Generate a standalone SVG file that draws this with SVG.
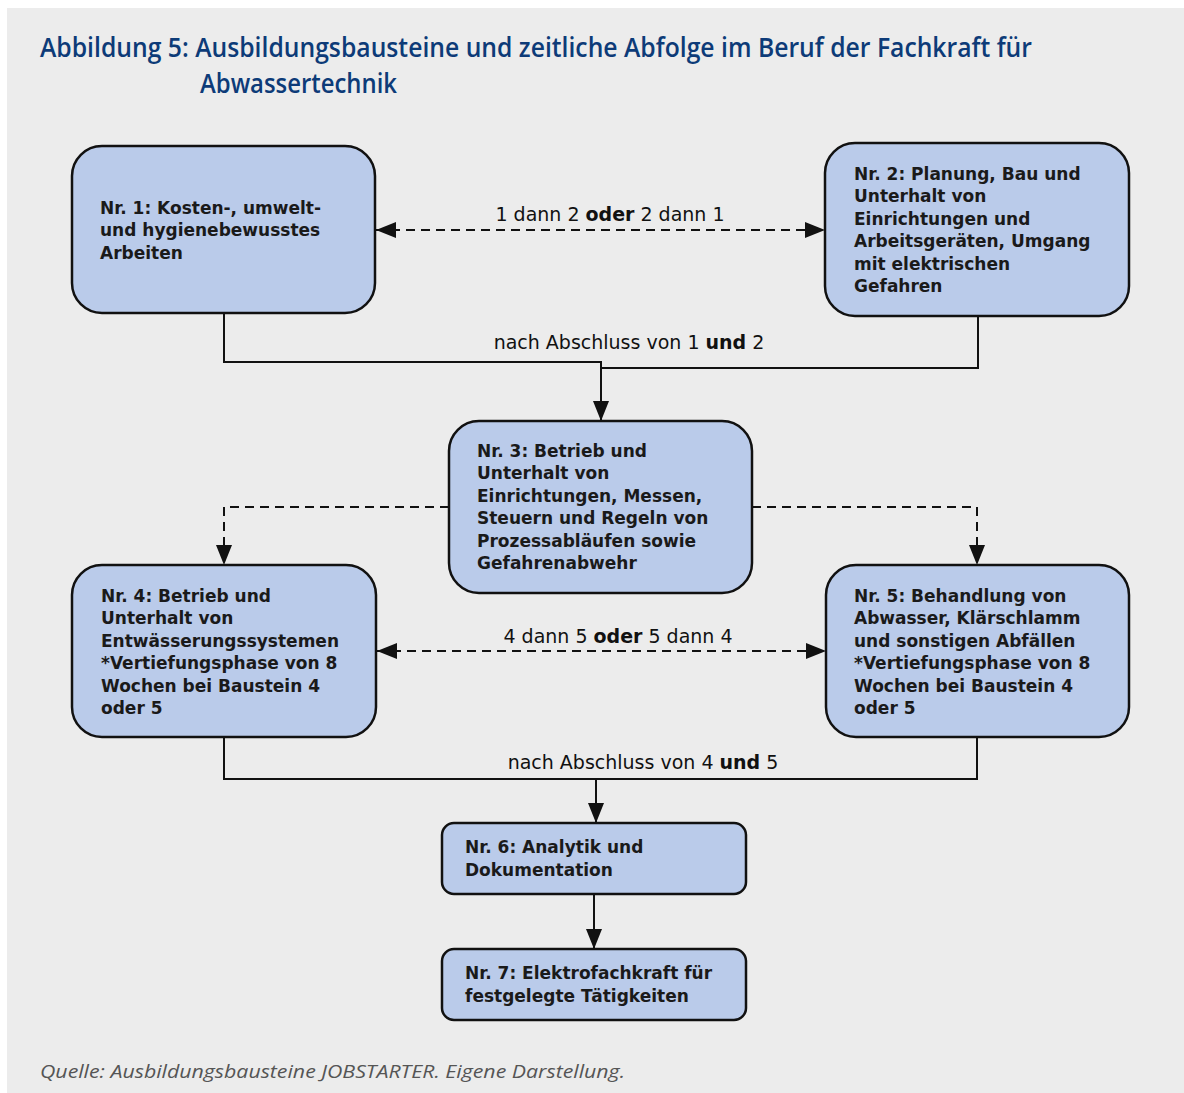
<svg xmlns="http://www.w3.org/2000/svg" width="1184" height="1093" viewBox="0 0 1184 1093">
<style>
.bg{fill:#ececec}
.node rect{fill:#bacbea;stroke:#111;stroke-width:2.5}
.nt{font-family:"DejaVu Sans",Verdana,sans-serif;font-weight:bold;font-size:17px;fill:#1a1a1a}
.lbl{font-family:"DejaVu Sans",Verdana,sans-serif;font-size:19px;fill:#111}
.lbl .b{font-weight:bold}
.title{font-family:"Open Sans","Noto Sans",sans-serif;font-weight:600;font-size:27px;fill:#0d3b78}
.cap{font-family:"Open Sans","Noto Sans",sans-serif;font-style:italic;font-size:18px;fill:#555}
.solid{fill:none;stroke:#111;stroke-width:2}
.dash{fill:none;stroke:#111;stroke-width:2;stroke-dasharray:9 6}
</style>
<defs>
<marker id="ah" viewBox="0 0 20 16" refX="20" refY="8" markerWidth="20" markerHeight="16" markerUnits="userSpaceOnUse" orient="auto-start-reverse">
<path d="M0,0 L20,8 L0,16 Z" fill="#111"/>
</marker>
</defs>
<rect class="bg" x="7" y="8" width="1177" height="1085"/>
<text class="title" x="40" y="57" textLength="992" lengthAdjust="spacingAndGlyphs">Abbildung 5: Ausbildungsbausteine und zeitliche Abfolge im Beruf der Fachkraft für</text>
<text class="title" x="200" y="93" textLength="197" lengthAdjust="spacingAndGlyphs">Abwassertechnik</text>

<g id="connectors">
<path class="dash" d="M376,230 H825" marker-start="url(#ah)" marker-end="url(#ah)"/>
<path class="solid" d="M224,313 V362 H601 V421" marker-end="url(#ah)"/>
<path class="solid" d="M978,316 V368 H601"/>
<path class="dash" d="M449,507 H224 V565" marker-end="url(#ah)"/>
<path class="dash" d="M752,507 H977 V565" marker-end="url(#ah)"/>
<path class="dash" d="M377,651 H826" marker-start="url(#ah)" marker-end="url(#ah)"/>
<path class="solid" d="M224,737 V779 H977 V737"/>
<path class="solid" d="M596,779 V823" marker-end="url(#ah)"/>
<path class="solid" d="M594,894 V949" marker-end="url(#ah)"/>
<text class="lbl" x="610" y="221" text-anchor="middle">1 dann 2 <tspan class="b">oder</tspan> 2 dann 1</text>
<text class="lbl" x="629" y="349" text-anchor="middle">nach Abschluss von 1 <tspan class="b">und</tspan> 2</text>
<text class="lbl" x="618" y="643" text-anchor="middle">4 dann 5 <tspan class="b">oder</tspan> 5 dann 4</text>
<text class="lbl" x="643" y="769" text-anchor="middle">nach Abschluss von 4 <tspan class="b">und</tspan> 5</text>
</g>

<g id="node1" class="node">
<rect x="72" y="146" width="303" height="167" rx="30"/>
<text class="nt"><tspan x="100" y="214">Nr. 1: Kosten-, umwelt-</tspan><tspan x="100" y="236">und hygienebewusstes</tspan><tspan x="100" y="259">Arbeiten</tspan></text>
</g>
<g id="node2" class="node">
<rect x="825" y="143" width="304" height="173" rx="30"/>
<text class="nt"><tspan x="854" y="180">Nr. 2: Planung, Bau und</tspan><tspan x="854" y="202">Unterhalt von</tspan><tspan x="854" y="225">Einrichtungen und</tspan><tspan x="854" y="247">Arbeitsgeräten, Umgang</tspan><tspan x="854" y="270">mit elektrischen</tspan><tspan x="854" y="292">Gefahren</tspan></text>
</g>
<g id="node3" class="node">
<rect x="449" y="421" width="303" height="172" rx="30"/>
<text class="nt"><tspan x="477" y="457">Nr. 3: Betrieb und</tspan><tspan x="477" y="479">Unterhalt von</tspan><tspan x="477" y="502">Einrichtungen, Messen,</tspan><tspan x="477" y="524">Steuern und Regeln von</tspan><tspan x="477" y="547">Prozessabläufen sowie</tspan><tspan x="477" y="569">Gefahrenabwehr</tspan></text>
</g>
<g id="node4" class="node">
<rect x="72" y="565" width="304" height="172" rx="30"/>
<text class="nt"><tspan x="101" y="602">Nr. 4: Betrieb und</tspan><tspan x="101" y="624">Unterhalt von</tspan><tspan x="101" y="647">Entwässerungssystemen</tspan><tspan x="101" y="669">*Vertiefungsphase von 8</tspan><tspan x="101" y="692">Wochen bei Baustein 4</tspan><tspan x="101" y="714">oder 5</tspan></text>
</g>
<g id="node5" class="node">
<rect x="826" y="565" width="303" height="172" rx="30"/>
<text class="nt"><tspan x="854" y="602">Nr. 5: Behandlung von</tspan><tspan x="854" y="624">Abwasser, Klärschlamm</tspan><tspan x="854" y="647">und sonstigen Abfällen</tspan><tspan x="854" y="669">*Vertiefungsphase von 8</tspan><tspan x="854" y="692">Wochen bei Baustein 4</tspan><tspan x="854" y="714">oder 5</tspan></text>
</g>
<g id="node6" class="node">
<rect x="442" y="823" width="304" height="71" rx="12"/>
<text class="nt"><tspan x="465" y="853">Nr. 6: Analytik und</tspan><tspan x="465" y="876">Dokumentation</tspan></text>
</g>
<g id="node7" class="node">
<rect x="442" y="949" width="304" height="71" rx="12"/>
<text class="nt"><tspan x="465" y="979">Nr. 7: Elektrofachkraft für</tspan><tspan x="465" y="1002">festgelegte Tätigkeiten</tspan></text>
</g>

<text class="cap" x="40" y="1078" textLength="585" lengthAdjust="spacingAndGlyphs">Quelle: Ausbildungsbausteine JOBSTARTER. Eigene Darstellung.</text>
</svg>
